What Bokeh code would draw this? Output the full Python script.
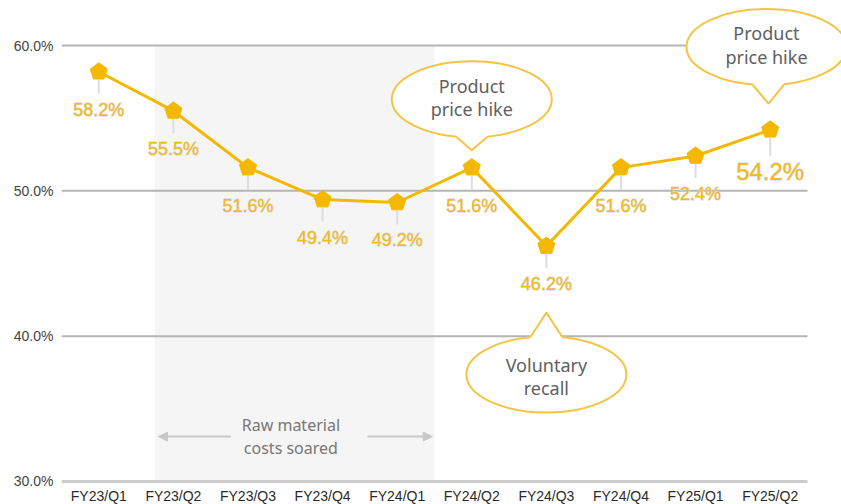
import math
from bokeh.plotting import figure
from bokeh.models import (ColumnDataSource, Range1d, FixedTicker, LabelSet, BoxAnnotation,
                          Arrow, NormalHead)
from bokeh.embed import file_html
from bokeh.resources import INLINE
from bokeh.core.properties import value

# ---------------- data ----------------
quarters = ["FY23/Q1", "FY23/Q2", "FY23/Q3", "FY23/Q4", "FY24/Q1",
            "FY24/Q2", "FY24/Q3", "FY24/Q4", "FY25/Q1", "FY25/Q2"]
margin_pct = [58.2, 55.5, 51.6, 49.4, 49.2, 51.6, 46.2, 51.6, 52.4, 54.2]
y_ticks = [30, 40, 50, 60]
y_tick_labels = ["30.0%", "40.0%", "50.0%", "60.0%"]

# callouts: (category index, text, bubble centre value, tail tip value)
callout_x = [5, 8.95, 6]
callout_text = ["Product\nprice hike", "Product\nprice hike", "Voluntary\nrecall"]
callout_cy = [56.3, 59.9, 37.36]
callout_tip = [52.8, 56.0, 41.62]

shade_left, shade_right = 0.75, 4.5
note_text = "Raw material\ncosts soared"

# ---------------- geometry ----------------
FW, FH = 780, 483
x0, x1 = -0.5, 9.956
y1 = 63.1
ppy = 145.3 / 10.0            # pixels per percentage point
y0 = 30 - 2 / ppy
ppx = FW / (x1 - x0)
dx = 1.0 / ppx
dy = 1.0 / ppy

YEL = "#F5B800"
LAB = "#F3BA18"
BUB = "#F5C443"

p = figure(frame_width=FW, frame_height=FH, output_backend="svg", toolbar_location=None,
           x_range=Range1d(x0, x1), y_range=Range1d(y0, y1),
           min_border_left=61, min_border_right=0, min_border_top=0, min_border_bottom=0)
p.outline_line_color = None
p.xgrid.visible = False
p.ygrid.visible = False
p.background_fill_color = "white"

# axes
p.xaxis.ticker = FixedTicker(ticks=list(range(len(quarters))))
p.xaxis.major_label_overrides = {i: q for i, q in enumerate(quarters)}
p.xaxis.axis_line_color = None
p.xaxis.major_tick_line_color = None
p.xaxis.minor_tick_line_color = None
p.xaxis.major_tick_out = 0
p.xaxis.minor_tick_out = 0
p.xaxis.major_tick_in = 0
p.xaxis.major_label_standoff = 4
p.xaxis.major_label_text_font = "Liberation Sans"
p.xaxis.major_label_text_font_size = "14px"
p.xaxis.major_label_text_color = "#2a2a2a"

p.yaxis.ticker = FixedTicker(ticks=y_ticks)
p.yaxis.major_label_overrides = {t: l for t, l in zip(y_ticks, y_tick_labels)}
p.yaxis.axis_line_color = None
p.yaxis.major_tick_line_color = None
p.yaxis.minor_tick_line_color = None
p.yaxis.major_tick_out = 0
p.yaxis.minor_tick_out = 0
p.yaxis.major_tick_in = 0
p.yaxis.major_label_standoff = 8
p.yaxis.major_label_text_font = "Liberation Sans"
p.yaxis.major_label_text_font_size = "14px"
p.yaxis.major_label_text_color = "#444444"

# shaded period
p.add_layout(BoxAnnotation(left=shade_left, right=shade_right, bottom=y0, top=60,
                           fill_color="#f5f5f5", fill_alpha=1, line_color=None,
                           level="underlay"))

# gridlines
n = len(quarters)
grid_src = ColumnDataSource(dict(x0=[-0.5] * len(y_ticks), x1=[n - 0.5] * len(y_ticks),
                                 y=y_ticks,
                                 c=["#cccccc" if t == y_ticks[0] else "#b5b5b5" for t in y_ticks],
                                 w=[3 if t == y_ticks[0] else 2 for t in y_ticks]))
p.segment(x0="x0", y0="y", x1="x1", y1="y", line_color="c", line_width="w", source=grid_src)

# callout bubbles
a, b = 80, 38
for cx, cy, tip, txt in zip(callout_x, callout_cy, callout_tip, callout_text):
    p.ellipse(x=[cx], y=[cy], width=[2 * a], height=[2 * b], width_units="screen",
              height_units="screen", fill_color="white", line_color=BUB, line_width=2)
    sgn = 1 if tip > cy else -1
    tip_x = cx + 2 * dx * (1 if cx % 1 else 0)
    bases = []
    for off in (-16, 16):
        ex = off + (tip_x - cx) / dx
        ey = b * math.sqrt(max(0.0, 1 - (ex / a) ** 2))
        bases.append((cx + ex * dx, cy + sgn * ey * dy))
    inner = [(bx, by - sgn * 3 * dy) for bx, by in bases]
    p.patch(x=[inner[0][0], bases[0][0], tip_x, bases[1][0], inner[1][0]],
            y=[inner[0][1], bases[0][1], tip, bases[1][1], inner[1][1]],
            fill_color="white", line_color=None)
    p.line(x=[bases[0][0], tip_x, bases[1][0]], y=[bases[0][1], tip, bases[1][1]],
           line_color=BUB, line_width=2)
    p.text(x=[cx], y=[cy - sgn * 2 * dy], text=[txt], text_align="center",
           text_baseline="middle", text_font=value("Noto Sans"), text_font_size="18px",
           text_color="#606060", text_line_height=0.98)

# arrows + note
ay = 33.09
p.add_layout(Arrow(end=NormalHead(size=9, fill_color="#c8c8c8", line_color="#c8c8c8"),
                   x_start=1.77, y_start=ay, x_end=0.80, y_end=ay,
                   line_color="#c8c8c8", line_width=2))
p.add_layout(Arrow(end=NormalHead(size=9, fill_color="#c8c8c8", line_color="#c8c8c8"),
                   x_start=3.60, y_start=ay, x_end=4.47, y_end=ay,
                   line_color="#c8c8c8", line_width=2))
p.text(x=[(shade_left + shade_right) / 2 - 0.05], y=[ay], text=[note_text], text_align="center",
       text_baseline="middle", text_font=value("Noto Sans"), text_font_size="16px",
       text_color="#777777", text_line_height=1.05)

# main line
xs = list(range(n))
p.line(xs, margin_pct, line_color=YEL, line_width=3)

# leader lines
last = n - 1
lead_src = ColumnDataSource(dict(
    x=xs,
    y0=[v - 8 * dy for v in margin_pct],
    y1=[v - (26 if i == last else 22) * dy for i, v in enumerate(margin_pct)]))
p.segment(x0="x", y0="y0", x1="x", y1="y1", line_color="#dddddd", line_width=2, source=lead_src)

# pentagon markers
r = 9
pxs, pys = [], []
for xv, yv in zip(xs, margin_pct):
    angs = [math.radians(90 + 72 * k) for k in range(5)]
    pxs.append([xv + r * math.cos(t) * dx for t in angs])
    pys.append([yv + r * math.sin(t) * dy for t in angs])
p.patches(pxs, pys, fill_color=YEL, line_color=YEL, line_width=1)

# value labels (halo layer + fill layer)
lab_src = ColumnDataSource(dict(
    x=xs, y=margin_pct, t=[f"{v:.1f}%" for v in margin_pct],
    fs=["24px" if i == last else "18px" for i in range(n)],
    off=[-42 if i == last else -38 for i in range(n)]))
common = dict(x="x", y="y", text="t", source=lab_src, y_offset="off",
              text_align="center", text_baseline="middle",
              text_font=value("Liberation Sans"), text_font_size="fs")
p.add_layout(LabelSet(text_color="white", text_outline_color="#d8d8d8", **common))
p.add_layout(LabelSet(text_color=LAB, **common))

open("out.html", "w").write(file_html(p, INLINE))
